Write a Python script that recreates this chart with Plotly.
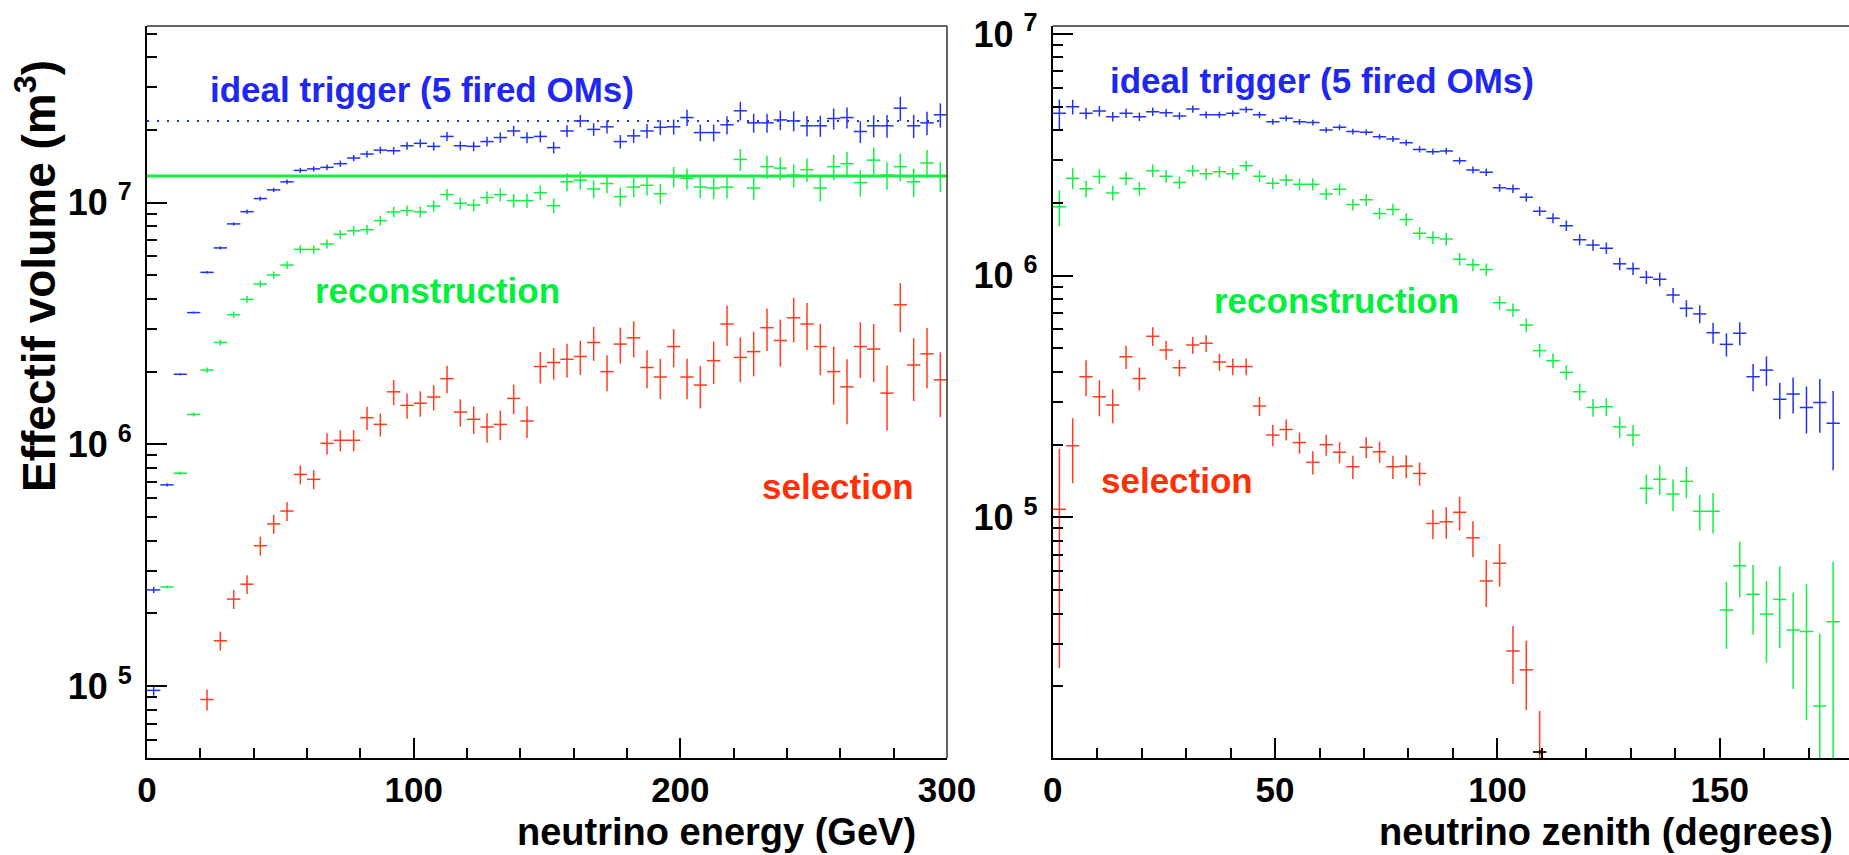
import plotly.graph_objects as go

W, H = 1849, 855

# ---------------- data: left panel (neutrino energy, 5 GeV bins) ----------------
energy_bin_halfwidth = 2.5
trig_E_x = [2.5 + 5 * i for i in range(60)]
trig_E = [2.5e5, 6.8e5, 1.95e6, 3.51e6, 5.15e6, 6.50e6, 8.17e6, 9.18e6, 1.04e7, 1.13e7,
          1.22e7, 1.36e7, 1.38e7, 1.40e7, 1.45e7, 1.53e7, 1.59e7, 1.65e7, 1.64e7, 1.72e7,
          1.76e7, 1.71e7, 1.88e7, 1.72e7, 1.71e7, 1.79e7, 1.86e7, 1.98e7, 1.86e7, 1.88e7,
          1.69e7, 1.98e7, 2.18e7, 2.01e7, 2.06e7, 1.79e7, 1.89e7, 1.98e7, 2.05e7, 2.06e7,
          2.25e7, 1.95e7, 1.95e7, 2.10e7, 2.40e7, 2.14e7, 2.14e7, 2.20e7, 2.18e7, 2.08e7,
          2.08e7, 2.23e7, 2.25e7, 1.97e7, 2.08e7, 2.08e7, 2.46e7, 2.08e7, 2.14e7, 2.31e7]
trig_E_relerr = [0.03, 0.015, 0.01, 0.01, 0.012, 0.015, 0.015, 0.02, 0.02, 0.02,
                 0.022, 0.025, 0.025, 0.028, 0.03, 0.03, 0.032, 0.034, 0.035, 0.037,
                 0.04, 0.04, 0.043, 0.043, 0.045, 0.047, 0.05, 0.05, 0.052, 0.055,
                 0.055, 0.057, 0.058, 0.06, 0.062, 0.064, 0.066, 0.068, 0.07, 0.072,
                 0.078, 0.08, 0.08, 0.085, 0.088, 0.09, 0.09, 0.092, 0.095, 0.097,
                 0.1, 0.1, 0.1, 0.103, 0.105, 0.108, 0.115, 0.11, 0.112, 0.115]
trig_E_extra_x = [2.5]
trig_E_extra = [9.6e4]
trig_E_extra_relerr = [0.05]

reco_E_x = [7.5 + 5 * i for i in range(59)]
reco_E = [2.57e5, 7.6e5, 1.33e6, 2.03e6, 2.64e6, 3.44e6, 3.98e6, 4.61e6, 5.02e6, 5.52e6,
          6.41e6, 6.41e6, 6.75e6, 7.40e6, 7.65e6, 7.73e6, 8.43e6, 9.16e6, 9.27e6, 9.16e6,
          9.69e6, 1.08e7, 9.94e6, 9.78e6, 1.05e7, 1.08e7, 1.02e7, 1.02e7, 1.10e7, 9.72e6,
          1.22e7, 1.24e7, 1.14e7, 1.20e7, 1.06e7, 1.16e7, 1.18e7, 1.09e7, 1.28e7, 1.26e7,
          1.16e7, 1.15e7, 1.16e7, 1.51e7, 1.15e7, 1.41e7, 1.39e7, 1.30e7, 1.37e7, 1.15e7,
          1.41e7, 1.45e7, 1.21e7, 1.50e7, 1.30e7, 1.41e7, 1.22e7, 1.46e7, 1.29e7]
reco_E_relerr = [0.015, 0.015, 0.02, 0.025, 0.028, 0.03, 0.032, 0.033, 0.035, 0.037,
                 0.04, 0.04, 0.042, 0.043, 0.045, 0.047, 0.048, 0.05, 0.05, 0.052,
                 0.054, 0.055, 0.057, 0.058, 0.06, 0.062, 0.065, 0.067, 0.07, 0.07,
                 0.085, 0.087, 0.085, 0.088, 0.09, 0.092, 0.093, 0.095, 0.098, 0.1,
                 0.1, 0.1, 0.103, 0.105, 0.105, 0.11, 0.11, 0.11, 0.112, 0.12,
                 0.12, 0.12, 0.125, 0.128, 0.13, 0.13, 0.135, 0.135, 0.14]

sel_E_x = [22.5 + 5 * i for i in range(56)]
sel_E = [8.8e4, 1.54e5, 2.29e5, 2.64e5, 3.81e5, 4.69e5, 5.30e5, 7.51e5, 7.17e5, 1.01e6,
         1.04e6, 1.04e6, 1.29e6, 1.21e6, 1.65e6, 1.45e6, 1.48e6, 1.57e6, 1.87e6, 1.36e6,
         1.27e6, 1.18e6, 1.21e6, 1.55e6, 1.25e6, 2.10e6, 2.18e6, 2.25e6, 2.31e6, 2.64e6,
         2.00e6, 2.60e6, 2.76e6, 2.08e6, 1.90e6, 2.54e6, 1.90e6, 1.76e6, 2.22e6, 3.15e6,
         2.29e6, 2.42e6, 3.04e6, 2.69e6, 3.34e6, 3.15e6, 2.54e6, 2.00e6, 1.73e6, 2.54e6,
         2.48e6, 1.63e6, 3.78e6, 2.13e6, 2.37e6, 1.85e6]
sel_E_relerr = [0.1, 0.09, 0.09, 0.09, 0.09, 0.09, 0.09, 0.09, 0.09, 0.1, 0.1, 0.1,
                0.11, 0.11, 0.12, 0.12, 0.12, 0.12, 0.13, 0.13, 0.13, 0.14, 0.14, 0.14, 0.15,
                0.15, 0.15, 0.16, 0.16, 0.16, 0.17, 0.17, 0.17, 0.18, 0.19, 0.18, 0.19, 0.2, 0.2,
                0.19, 0.21, 0.21, 0.2, 0.22, 0.21, 0.22, 0.24, 0.27, 0.3, 0.26, 0.27, 0.3, 0.23,
                0.29, 0.28, 0.3]

trig_E_plateau = 2.18e7   # dotted blue line
reco_E_plateau = 1.29e7   # solid green line

# ---------------- data: right panel (neutrino zenith, 3 degree bins) ----------------
zenith_bin_halfwidth = 1.5
trig_Z_x = [1.5 + 3 * i for i in range(59)]
trig_Z = [4.70e6, 5.00e6, 4.70e6, 4.80e6, 4.55e6, 4.70e6, 4.55e6, 4.77e6, 4.72e6, 4.58e6,
          4.89e6, 4.63e6, 4.63e6, 4.70e6, 4.87e6, 4.63e6, 4.33e6, 4.48e6, 4.33e6, 4.30e6,
          4.01e6, 4.11e6, 3.95e6, 3.92e6, 3.76e6, 3.68e6, 3.55e6, 3.33e6, 3.26e6, 3.28e6,
          2.99e6, 2.74e6, 2.68e6, 2.31e6, 2.29e6, 2.11e6, 1.85e6, 1.73e6, 1.61e6, 1.41e6,
          1.34e6, 1.30e6, 1.12e6, 1.07e6, 9.85e5, 9.67e5, 8.32e5, 7.33e5, 6.95e5, 5.81e5,
          5.20e5, 5.78e5, 3.82e5, 4.07e5, 3.08e5, 3.24e5, 2.85e5, 2.99e5, 2.45e5]
trig_Z_relerr = [0.14, 0.07, 0.055, 0.05, 0.045, 0.045, 0.04, 0.04, 0.038, 0.035,
                 0.035, 0.033, 0.03, 0.03, 0.03, 0.03, 0.028, 0.028, 0.028, 0.028,
                 0.027, 0.027, 0.027, 0.027, 0.027, 0.028, 0.028, 0.03, 0.03, 0.03,
                 0.032, 0.033, 0.035, 0.037, 0.04, 0.042, 0.045, 0.047, 0.05, 0.052,
                 0.054, 0.055, 0.06, 0.06, 0.063, 0.065, 0.07, 0.08, 0.085, 0.1,
                 0.11, 0.11, 0.13, 0.14, 0.17, 0.17, 0.22, 0.25, 0.36]

reco_Z_x = [1.5 + 3 * i for i in range(59)]
reco_Z = [1.93e6, 2.53e6, 2.29e6, 2.57e6, 2.20e6, 2.53e6, 2.29e6, 2.72e6, 2.58e6, 2.43e6,
          2.72e6, 2.64e6, 2.69e6, 2.64e6, 2.85e6, 2.58e6, 2.41e6, 2.49e6, 2.39e6, 2.39e6,
          2.18e6, 2.28e6, 1.97e6, 2.06e6, 1.81e6, 1.88e6, 1.71e6, 1.50e6, 1.44e6, 1.42e6,
          1.17e6, 1.11e6, 1.06e6, 7.73e5, 7.21e5, 6.25e5, 4.90e5, 4.45e5, 3.98e5, 3.31e5,
          2.85e5, 2.87e5, 2.37e5, 2.19e5, 1.32e5, 1.44e5, 1.25e5, 1.41e5, 1.06e5, 1.06e5,
          4.14e4, 6.31e4, 4.81e4, 3.98e4, 4.58e4, 3.42e4, 3.37e4, 1.66e4, 3.70e4]
reco_Z_relerr = [0.17, 0.1, 0.08, 0.07, 0.07, 0.065, 0.065, 0.06, 0.06, 0.06,
                 0.055, 0.055, 0.055, 0.055, 0.05, 0.055, 0.055, 0.055, 0.055, 0.055,
                 0.055, 0.055, 0.055, 0.055, 0.055, 0.055, 0.06, 0.06, 0.06, 0.06,
                 0.06, 0.06, 0.06, 0.065, 0.065, 0.065, 0.065, 0.07, 0.07, 0.08,
                 0.085, 0.085, 0.1, 0.1, 0.14, 0.14, 0.15, 0.15, 0.17, 0.19,
                 0.31, 0.26, 0.32, 0.37, 0.37, 0.43, 0.57, 0.99, 0.77]

sel_Z_x = [1.5 + 3 * i for i in range(37)]
sel_Z = [1.08e5, 1.98e5, 3.82e5, 3.16e5, 2.92e5, 4.62e5, 3.76e5, 5.62e5, 4.93e5, 4.16e5,
         5.17e5, 5.25e5, 4.40e5, 4.21e5, 4.21e5, 2.89e5, 2.19e5, 2.31e5, 2.04e5, 1.69e5,
         2.00e5, 1.86e5, 1.62e5, 1.95e5, 1.87e5, 1.62e5, 1.63e5, 1.52e5, 9.44e4, 9.59e4,
         1.05e5, 8.24e4, 5.46e4, 6.46e4, 2.80e4, 2.34e4, 1.07e4]
sel_Z_relerr = [0.78, 0.30, 0.17, 0.17, 0.16, 0.11, 0.11, 0.09, 0.09, 0.08,
                0.08, 0.08, 0.08, 0.08, 0.08, 0.09, 0.1, 0.1, 0.1, 0.11,
                0.1, 0.1, 0.11, 0.1, 0.1, 0.11, 0.11, 0.11, 0.14, 0.15,
                0.16, 0.17, 0.22, 0.2, 0.27, 0.32, 0.48]
extra_Z_x = [109.5]
extra_Z = [1.07e4]
extra_Z_relerr = [0.02]

# ---------------- styling ----------------
BLUE, GREEN, RED = "#2233f0", "#10f040", "#ff3c1e"
BLUE_T, GREEN_T, RED_T = "#1e28f0", "#00f03c", "#ff3008"
FONT = "Liberation Sans, Arial, Helvetica, sans-serif"

fig = go.Figure()


def crosses(x, y, rel, half, color, xa, ya, thick=1.5):
    err = [v * e for v, e in zip(y, rel)]
    fig.add_trace(go.Scatter(
        x=x, y=y, mode="markers", xaxis=xa, yaxis=ya,
        marker=dict(size=1, color=color),
        error_x=dict(type="constant", value=half, width=0, thickness=thick, color=color),
        error_y=dict(type="data", array=err, arrayminus=err, width=0,
                     thickness=thick, color=color),
        hoverinfo="x+y", showlegend=False))


# left panel
fig.add_trace(go.Scatter(x=[0, 300], y=[trig_E_plateau] * 2, mode="lines",
                         line=dict(color=BLUE, width=2, dash="2px,8px"),
                         xaxis="x", yaxis="y", showlegend=False, hoverinfo="skip"))
fig.add_trace(go.Scatter(x=[0, 300], y=[reco_E_plateau] * 2, mode="lines",
                         line=dict(color=GREEN, width=3),
                         xaxis="x", yaxis="y", showlegend=False, hoverinfo="skip"))
crosses(trig_E_x, trig_E, trig_E_relerr, energy_bin_halfwidth, BLUE, "x", "y")
crosses(trig_E_extra_x, trig_E_extra, trig_E_extra_relerr, energy_bin_halfwidth, BLUE, "x", "y")
crosses(reco_E_x, reco_E, reco_E_relerr, energy_bin_halfwidth, GREEN, "x", "y")
crosses(sel_E_x, sel_E, sel_E_relerr, energy_bin_halfwidth, RED, "x", "y")

# right panel
crosses(trig_Z_x, trig_Z, trig_Z_relerr, zenith_bin_halfwidth, BLUE, "x2", "y2")
crosses(reco_Z_x, reco_Z, reco_Z_relerr, zenith_bin_halfwidth, GREEN, "x2", "y2")
crosses(sel_Z_x, sel_Z, sel_Z_relerr, zenith_bin_halfwidth, RED, "x2", "y2")
crosses(extra_Z_x, extra_Z, extra_Z_relerr, zenith_bin_halfwidth, "black", "x2", "y2")

# geometry (pixels)
L0, L1 = 147, 947
R0, R1 = 1052.7, 1849
TOP, BOT = 26, 758


def px(v):
    return v / W


def py(v):
    return 1 - v / H


tickfont_x = dict(family=FONT, size=35, color="black", weight="bold")
tickfont_y = dict(family=FONT, size=36, color="black", weight="bold")

common_x = dict(showgrid=False, zeroline=False, showline=True, linecolor="black",
                linewidth=2, ticks="inside", ticklen=20, tickwidth=1.5, tickcolor="black",
                tickfont=tickfont_x, tickmode="array", ticklabelstandoff=0, automargin=False)
common_y = dict(type="log", showgrid=False, zeroline=False, showline=True, linecolor="black",
                linewidth=2, ticks="inside", ticklen=20, tickwidth=1.5, tickcolor="black",
                tickfont=tickfont_y, tickmode="array", ticklabelstandoff=6, automargin=False)

minor_left_y = [m * 10 ** d for d in range(4, 8) for m in range(2, 10) if 6e4 <= m * 10 ** d <= 5e7]
minor_right_y = [m * 10 ** d for d in range(4, 7) for m in range(2, 10)]

fig.update_layout(
    width=W, height=H, margin=dict(l=0, r=0, t=0, b=0, autoexpand=False),
    paper_bgcolor="white", plot_bgcolor="white", showlegend=False,
    xaxis=dict(domain=[px(L0), px(L1)], range=[0, 300], anchor="y",
               tickvals=[0, 100, 200, 300],
               minor=dict(tickvals=[20, 40, 60, 80, 120, 140, 160, 180, 220, 240, 260, 280],
                          ticklen=10, tickwidth=1.5, tickcolor="black", ticks="inside"),
               **common_x),
    yaxis=dict(domain=[py(BOT), py(TOP)], range=[4.7025, 7.731], anchor="x",
               tickvals=[1e5, 1e6, 1e7],
               ticktext=["10 <sup>5</sup>", "10 <sup>6</sup>", "10 <sup>7</sup>"],
               minor=dict(tickvals=minor_left_y, ticklen=10, tickwidth=1.5,
                          tickcolor="black", ticks="inside"),
               **common_y),
    xaxis2=dict(domain=[px(R0), px(R1)], range=[0, (R1 - R0) / 4.447], anchor="y2",
                tickvals=[0, 50, 100, 150],
                minor=dict(tickvals=[10, 20, 30, 40, 60, 70, 80, 90, 110, 120, 130, 140, 160, 170],
                           ticklen=10, tickwidth=1.5, tickcolor="black", ticks="inside"),
                **common_x),
    yaxis2=dict(domain=[py(BOT), py(TOP)], range=[4.0046, 7.0331], anchor="x2",
                tickvals=[1e5, 1e6, 1e7],
                ticktext=["10 <sup>5</sup>", "10 <sup>6</sup>", "10 <sup>7</sup>"],
                minor=dict(tickvals=minor_right_y, ticklen=10, tickwidth=1.5,
                           tickcolor="black", ticks="inside"),
                **common_y),
)

# frame top / right
for xr, yr, right in (("x domain", "y domain", True), ("x2 domain", "y2 domain", False)):
    fig.add_shape(type="line", xref=xr, yref=yr, x0=0, x1=1, y0=1, y1=1,
                  line=dict(color="#333333", width=1.5))
    if right:
        fig.add_shape(type="line", xref=xr, yref=yr, x0=1, x1=1, y0=0, y1=1,
                      line=dict(color="#333333", width=1.5))


def label(text, x, y, color, size=35, xanchor="left", angle=0):
    fig.add_annotation(text=text, x=px(x), y=py(y), xref="paper", yref="paper",
                       xanchor=xanchor, yanchor="middle", showarrow=False, textangle=angle,
                       font=dict(family=FONT, size=size, color=color, weight="bold"))


label("ideal trigger (5 fired OMs)", 208, 89, BLUE_T)
label("reconstruction", 313, 290, GREEN_T)
label("selection", 760, 486, RED_T)
label("ideal trigger (5 fired OMs)", 1108, 80, BLUE_T)
label("reconstruction", 1212, 300, GREEN_T)
label("selection", 1099, 480, RED_T)

label("neutrino energy (GeV)", 918, 832, "black", size=38, xanchor="right")
label("neutrino zenith (degrees)", 1835, 832, "black", size=38, xanchor="right")
label("Effectif volume (m<sup>3</sup>)", 36, 276, "black", size=46, xanchor="center", angle=-90)

fig.write_html("out.html")
